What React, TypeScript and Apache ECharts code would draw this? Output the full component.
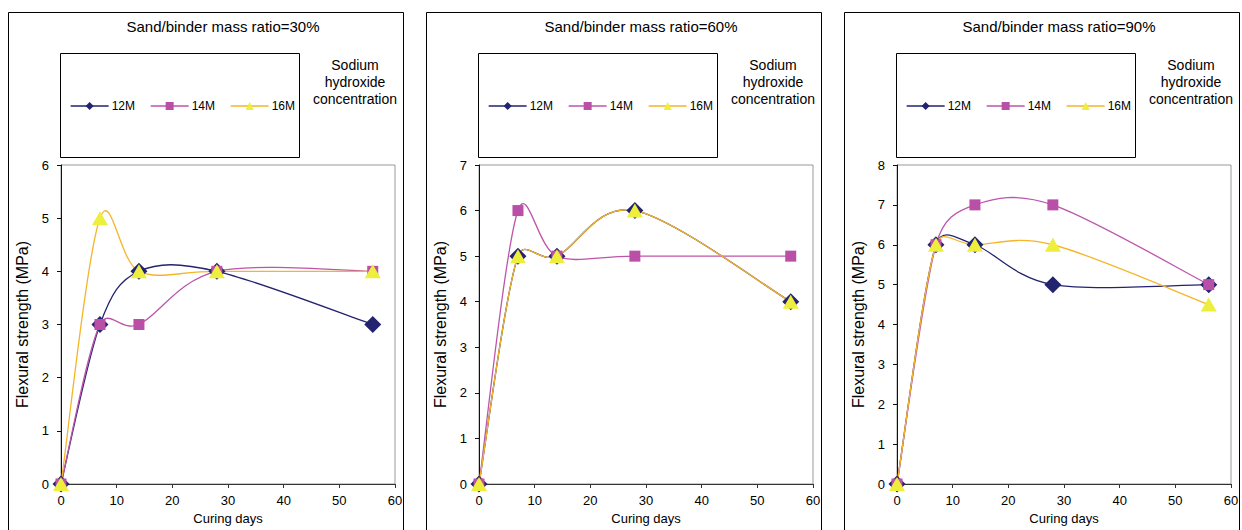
import React, { useEffect, useRef } from "react";
import * as echarts from "echarts";

// ---- data ----
const curingDays = [0, 7, 14, 28, 56];
const seriesNames = ["12M", "14M", "16M"];
const panelTitles = [
  "Sand/binder mass ratio=30%",
  "Sand/binder mass ratio=60%",
  "Sand/binder mass ratio=90%",
];
const yAxisMax = [6, 7, 8];
const ratio30_12M = [0, 3, 4, 4, 3];
const ratio30_14M = [0, 3, 3, 4, 4];
const ratio30_16M = [0, 5, 4, 4, 4];
const ratio60_12M = [0, 5, 5, 6, 4];
const ratio60_14M = [0, 6, 5, 5, 5];
const ratio60_16M = [0, 5, 5, 6, 4];
const ratio90_12M = [0, 6, 6, 5, 5];
const ratio90_14M = [0, 6, 7, 7, 5];
const ratio90_16M = [0, 6, 6, 6, 4.5];
const panelValues = [
  [ratio30_12M, ratio30_14M, ratio30_16M],
  [ratio60_12M, ratio60_14M, ratio60_16M],
  [ratio90_12M, ratio90_14M, ratio90_16M],
];
const legendNote = "Sodium\nhydroxide\nconcentration";
const xAxisTitle = "Curing days";
const yAxisTitle = "Flexural strength (MPa)";

// ---- styles ----
const FONT = "Liberation Sans, Arial, sans-serif";
const lineColors = ["#23236F", "#BC55AB", "#F5B52A"];
const markerColors = ["#23236F", "#B94FA7", "#EEEE3C"];
const symbols = ["diamond", "rect", "triangle"];
const symbolSizes: any[] = [17, 11, [16, 14]];
const LINE_W = 1.3;
const PANEL_OFFSET = 418;

// Excel-style smoothed segment (cardinal spline through the data points, pixel space)
function makeSmoothRenderer(points: number[][], color: string) {
  return (params: any, api: any) => {
    const i = params.dataIndex;
    const n = points.length;
    if (i >= n - 1) return null;
    const c = (k: number) => api.coord(points[Math.max(0, Math.min(n - 1, k))]);
    const p0 = c(i - 1);
    const p1 = c(i);
    const p2 = c(i + 1);
    const p3 = c(i + 2);
    const dist = (a: number[], b: number[]) => Math.hypot(a[0] - b[0], a[1] - b[1]);
    const seg = dist(p1, p2);
    const d02 = dist(p0, p2) || 1;
    const d13 = dist(p1, p3) || 1;
    const f1 = Math.min(1 / 6, (0.5 * seg) / d02);
    const f2 = Math.min(1 / 6, (0.5 * seg) / d13);
    return {
      type: "bezierCurve",
      shape: {
        x1: p1[0],
        y1: p1[1],
        x2: p2[0],
        y2: p2[1],
        cpx1: p1[0] + (p2[0] - p0[0]) * f1,
        cpy1: p1[1] + (p2[1] - p0[1]) * f1,
        cpx2: p2[0] - (p3[0] - p1[0]) * f2,
        cpy2: p2[1] - (p3[1] - p1[1]) * f2,
      },
      style: { stroke: color, lineWidth: LINE_W, fill: "none" },
      silent: true,
    };
  };
}

export default function App() {
  const ref = useRef<HTMLDivElement>(null);
  useEffect(() => {
    if (!ref.current) return;
    const chart = echarts.init(ref.current, null, { renderer: "svg" });
    const grids: any[] = [];
    const xAxes: any[] = [];
    const yAxes: any[] = [];
    const legends: any[] = [];
    const series: any[] = [];
    const graphics: any[] = [];
    for (let p = 0; p < 3; p++) {
      const off = p * PANEL_OFFSET;
      grids.push({
        left: 61 + off,
        top: 165,
        width: 334,
        height: 320,
        show: true,
        borderColor: "#999",
        borderWidth: 1,
        backgroundColor: "transparent",
      });
      xAxes.push({
        type: "value",
        gridIndex: p,
        min: 0,
        max: 60,
        interval: 10,
        name: xAxisTitle,
        nameLocation: "middle",
        nameGap: 28,
        nameTextStyle: { fontFamily: FONT, fontSize: 13, color: "#000" },
        axisLine: { lineStyle: { color: "#333", width: 1 } },
        axisTick: { show: true, length: 4, lineStyle: { color: "#333" } },
        axisLabel: { fontFamily: FONT, fontSize: 13, color: "#000", margin: 10 },
        splitLine: { show: false },
      });
      yAxes.push({
        type: "value",
        gridIndex: p,
        min: 0,
        max: yAxisMax[p],
        interval: 1,
        name: yAxisTitle,
        nameLocation: "middle",
        nameGap: 31,
        nameTextStyle: { fontFamily: FONT, fontSize: 16, color: "#000" },
        axisLine: { show: true, lineStyle: { color: "#111", width: 1 } },
        axisTick: { show: true, length: 4, lineStyle: { color: "#111" } },
        axisLabel: { fontFamily: FONT, fontSize: 13, color: "#000", margin: 12 },
        splitLine: { show: false },
      });
      legends.push({
        left: 70 + off,
        top: 100,
        padding: 0,
        orient: "horizontal",
        itemWidth: 38,
        itemHeight: 10,
        itemGap: 15,
        data: seriesNames.map((nm, s) => ({
          name: nm,
          lineStyle: { color: lineColors[s], width: LINE_W, opacity: 1 },
        })),
        textStyle: { fontFamily: FONT, fontSize: 12, color: "#000", padding: [0, 0, 0, -2] },
        selectedMode: false,
      });
      for (let s = 0; s < 3; s++) {
        const pts = curingDays.map((d, i) => [d, panelValues[p][s][i]]);
        series.push({
          type: "custom",
          name: seriesNames[s] + " curve",
          xAxisIndex: p,
          yAxisIndex: p,
          coordinateSystem: "cartesian2d",
          data: pts,
          encode: { x: 0, y: 1 },
          clip: false,
          silent: true,
          z: 1,
          renderItem: makeSmoothRenderer(pts, lineColors[s]),
        });
      }
      for (let s = 0; s < 3; s++) {
        const pts = curingDays.map((d, i) => [d, panelValues[p][s][i]]);
        series.push({
          type: "line",
          name: seriesNames[s],
          xAxisIndex: p,
          yAxisIndex: p,
          data: pts,
          symbol: symbols[s],
          symbolSize: symbolSizes[s],
          showAllSymbol: true,
          clip: false,
          lineStyle: { color: lineColors[s], width: LINE_W, opacity: 0 },
          itemStyle: { color: markerColors[s], borderWidth: 0 },
          emphasis: { disabled: true },
          z: 3 + s,
        });
      }
      graphics.push(
        {
          type: "rect",
          shape: { x: 8.5 + off, y: 12.5, width: 395, height: 540 },
          style: { fill: "none", stroke: "#000", lineWidth: 1 },
          silent: true,
        },
        {
          type: "rect",
          shape: { x: 60.5 + off, y: 53.5, width: 239, height: 104 },
          style: { fill: "none", stroke: "#000", lineWidth: 1 },
          silent: true,
        },
        {
          type: "text",
          x: 223 + off,
          y: 26,
          style: {
            text: panelTitles[p],
            font: `15px ${FONT}`,
            fill: "#000",
            align: "center",
            verticalAlign: "middle",
          },
          silent: true,
        },
        {
          type: "text",
          x: 355 + off,
          y: 82,
          style: {
            text: legendNote,
            font: `14px ${FONT}`,
            fill: "#000",
            align: "center",
            verticalAlign: "middle",
            lineHeight: 17,
          },
          silent: true,
        }
      );
    }
    chart.setOption({
      animation: false,
      backgroundColor: "#fff",
      grid: grids,
      xAxis: xAxes,
      yAxis: yAxes,
      legend: legends,
      series,
      graphic: graphics,
    });
    return () => chart.dispose();
  }, []);
  return (
    <div
      ref={ref}
      style={{ position: "absolute", left: 0, top: 0, width: 1242, height: 530 }}
    />
  );
}
